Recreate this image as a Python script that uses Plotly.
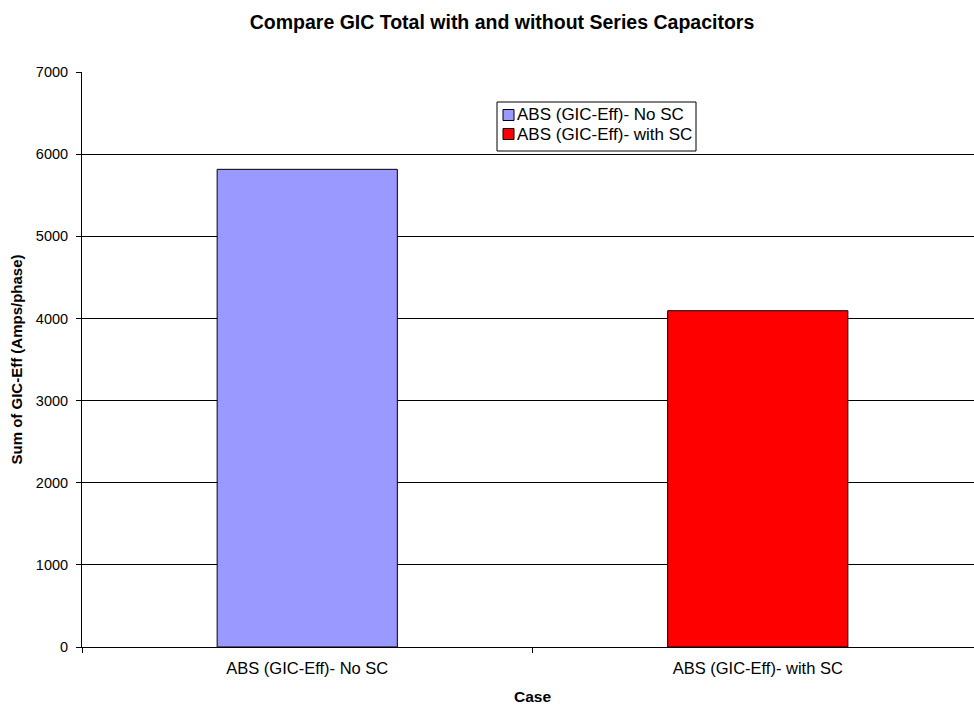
import plotly.graph_objects as go

# Summed effective GIC per case
cases = ["ABS (GIC-Eff)- No SC", "ABS (GIC-Eff)- with SC"]
gic_sum = [5815, 4094]
bar_colors = ["#9999FF", "#FF0000"]
y_ticks = [0, 1000, 2000, 3000, 4000, 5000, 6000, 7000]

FONT = "Liberation Sans, Arial, sans-serif"

# plot-area geometry in pixels
W, H = 974, 709
L, R, T, B = 82, 0, 72, 62
PW, PH = W - L - R, H - T - B

fig = go.Figure()
for name, val, col in zip(cases, gic_sum, bar_colors):
    fig.add_trace(go.Bar(
        x=[name], y=[val], name=name, width=0.4, showlegend=False,
        marker=dict(color=col, line=dict(color="#000000", width=1)),
    ))

# boxed legend with small swatches next to the labels
def px_x(px):
    return (px - L) / PW

def px_y(py):
    return (H - B - py) / PH

shapes = [dict(type="rect", xref="paper", yref="paper",
               x0=px_x(497), x1=px_x(696), y0=px_y(151), y1=px_y(102),
               line=dict(color="black", width=1), fillcolor="white")]
annotations = []
row_y = [115, 134]
for name, col, ry in zip(cases, bar_colors, row_y):
    shapes.append(dict(type="rect", xref="paper", yref="paper",
                       x0=px_x(503), x1=px_x(514), y0=px_y(ry + 5.5), y1=px_y(ry - 5.5),
                       line=dict(color="black", width=1), fillcolor=col))
    annotations.append(dict(xref="paper", yref="paper", x=px_x(515), y=px_y(ry),
                            xanchor="left", yanchor="middle", showarrow=False,
                            text=name, font=dict(family=FONT, size=17, color="black")))

# x-axis title, centred under the full category span
annotations.append(dict(xref="paper", yref="paper", x=px_x(532), y=px_y(696),
                        xanchor="center", yanchor="middle", showarrow=False,
                        text="<b>Case</b>", font=dict(family=FONT, size=15.5, color="black")))

fig.update_layout(
    width=W, height=H,
    margin=dict(l=L, r=R, t=T, b=B),
    paper_bgcolor="white", plot_bgcolor="white",
    barmode="overlay",
    font=dict(family=FONT, size=15, color="black"),
    title=dict(
        text="<b>Compare GIC Total with and without Series Capacitors</b>",
        xref="container", x=502 / W, xanchor="center", y=0.969, yanchor="middle",
        font=dict(family=FONT, size=19.5, color="black"),
    ),
    shapes=shapes,
    annotations=annotations,
    xaxis=dict(
        type="category", range=[-0.5, 1.48],
        showline=True, linecolor="black", linewidth=1,
        ticks="outside", tickson="boundaries", ticklen=5, tickcolor="black",
        ticklabelstandoff=6,
        tickfont=dict(family=FONT, size=16.5),
        showgrid=False, zeroline=False,
    ),
    yaxis=dict(
        range=[0, 7000], tickvals=y_ticks,
        showline=True, linecolor="black", linewidth=1,
        ticks="outside", ticklen=5, tickcolor="black",
        ticklabelstandoff=5,
        showgrid=True, gridcolor="black", gridwidth=1,
        zeroline=False,
        tickfont=dict(family=FONT, size=14.5),
        title=dict(text="<b>Sum of GIC-Eff (Amps/phase)</b>",
                   font=dict(family=FONT, size=15), standoff=9),
    ),
)

fig.write_html("out.html")
